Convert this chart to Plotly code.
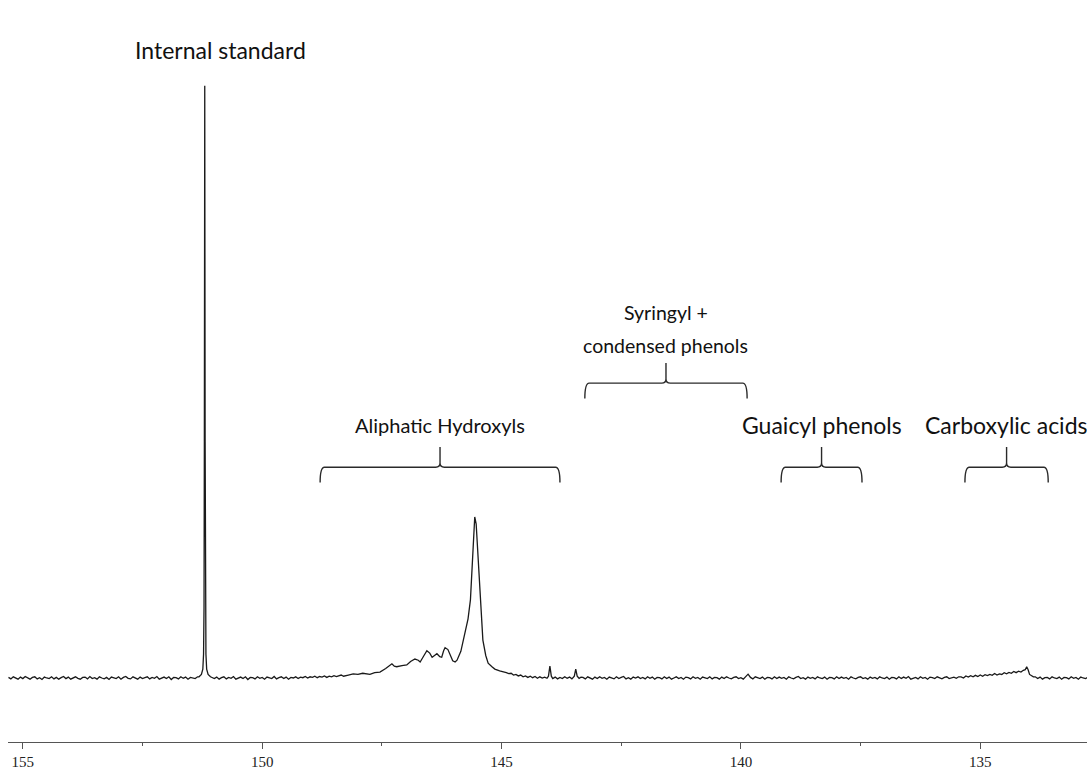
import plotly.graph_objects as go

# --- 31P NMR spectrum readings (chemical shift in ppm, intensity with internal standard = 100) ---

# Flat baseline stretches: first ppm of the stretch, then readings every 0.05 ppm
noise_step = 0.05
base_a_start = 155.3
base_a = [0.1, -0.15, 0.2, 0.0, -0.2, 0.15, -0.1, 0.25, -0.05, -0.2,
          0.1, 0.2, -0.15, 0.05, -0.25, 0.15, 0.0, -0.1, 0.2, -0.15,
          0.1, -0.2, 0.05, 0.25, -0.1, 0.15, -0.2, 0.0, 0.2, -0.05,
          -0.2, 0.1, 0.15, -0.15, 0.25, -0.1, 0.05, -0.2, 0.2, 0.0,
          -0.15, 0.1, -0.25, 0.15, 0.05, -0.1, 0.2, -0.2, 0.1, 0.25,
          -0.05, -0.15, 0.2, 0.0, -0.2, 0.15, -0.1, 0.05, 0.2, -0.15,
          0.1, -0.05, 0.25, -0.2, 0.0, 0.15, -0.1, 0.2, -0.25, 0.1,
          0.05, -0.15, 0.2, -0.05, 0.15, -0.2, 0.1, 0.0, -0.1, 0.2]
base_b_start = 151.0
base_b = [-0.1, 0.15, -0.2, 0.05, 0.2, -0.15, 0.1, -0.05, 0.25, -0.2,
          0.0, 0.15, -0.1, 0.2, -0.25, 0.1, 0.05, -0.15, 0.2, -0.05,
          0.1, -0.2, 0.15, 0.0, -0.1, 0.25, -0.15, 0.05, 0.2, -0.1,
          0.15, -0.2, 0.1, 0.0, 0.2, -0.1, 0.15, 0.05, 0.25, 0.0,
          0.2, 0.1, 0.3, 0.05, 0.25, 0.15, 0.35, 0.1, 0.3, 0.2,
          0.4, 0.25, 0.35, 0.5, 0.3, 0.45]
base_c_start = 143.3
base_c = [0.1, -0.15, 0.2, 0.0, -0.2, 0.15, -0.1, 0.2, -0.05, 0.1,
          -0.2, 0.15, 0.05, -0.15, 0.2, -0.1, 0.1, 0.25, -0.15, 0.05,
          -0.2, 0.15, 0.0, 0.2, -0.1, 0.1, -0.15, 0.2, -0.05, 0.15,
          -0.2, 0.1, 0.05, -0.15, 0.2, -0.1, 0.15, -0.2, 0.0, 0.2,
          -0.1, 0.1, -0.2, 0.15, 0.05, -0.15, 0.2, -0.05, 0.1, -0.2,
          0.15, 0.0, -0.1, 0.2, -0.15, 0.1, 0.05, -0.2, 0.15, -0.1,
          0.2, 0.0, -0.15, 0.1, 0.2, -0.1, 0.05, -0.2, 0.25, 0.65,
          0.1, -0.15, 0.2, 0.0, -0.1, 0.15, -0.2, 0.1, 0.05, -0.15,
          0.2, -0.1, 0.15, -0.05, 0.1, -0.2, 0.2, 0.0, -0.15, 0.1,
          0.25, -0.1, 0.05, -0.2, 0.15, -0.05, 0.1, -0.15, 0.2, 0.0,
          -0.1, 0.15, -0.2, 0.1, 0.05, -0.15, 0.2, -0.1, 0.15, -0.05,
          0.1, -0.2, 0.2, 0.0, -0.15, 0.1, 0.2, -0.1, 0.05, -0.2,
          0.15, -0.05, 0.1, -0.15, 0.2, 0.0, -0.1, 0.15, -0.2, 0.1,
          0.05, -0.15, 0.2, -0.1, 0.15, -0.05, 0.25, -0.2, 0.0, 0.1,
          -0.15, 0.2, -0.05, 0.1, -0.2, 0.15, 0.05, -0.1, 0.2, 0.0,
          -0.15, 0.1, 0.2, -0.1, 0.05, 0.15, -0.05, 0.2]
base_d_start = 133.85
base_d = [0.2, -0.1, 0.15, -0.2, 0.05, 0.1, -0.15, 0.2, 0.0, -0.1,
          0.15, -0.2, 0.1, 0.05, -0.15, 0.2, -0.05, 0.1, -0.2, 0.15,
          0.0, -0.1, 0.15]

# Internal standard signal
std_ppm = [151.32, 151.27, 151.24, 151.225, 151.215, 151.208, 151.200,
           151.192, 151.185, 151.175, 151.16, 151.13, 151.08]
std_int = [0.2, 0.6, 1.5, 4.0, 12.0, 40.0, 100.0,
           40.0, 12.0, 4.0, 1.5, 0.6, 0.2]

# Aliphatic hydroxyl envelope and the small signals after it
ali_ppm = [148.2, 148.1, 148.0, 147.9, 147.75, 147.65, 147.54, 147.42, 147.35,
           147.29, 147.24, 147.19, 147.08, 146.98, 146.90, 146.81, 146.74,
           146.70, 146.62, 146.56, 146.50, 146.45, 146.40, 146.35, 146.29,
           146.25, 146.21, 146.18, 146.12, 146.06, 146.02, 145.97, 145.93,
           145.85, 145.76, 145.70, 145.65, 145.61, 145.58, 145.56, 145.53,
           145.50, 145.45, 145.39, 145.33, 145.28, 145.20, 145.14, 145.04,
           144.95, 144.90, 144.85, 144.80, 144.75, 144.70, 144.65, 144.60,
           144.55, 144.50, 144.45, 144.40, 144.35, 144.30, 144.25, 144.20,
           144.15, 144.10, 144.05, 144.02, 143.99, 143.96, 143.93, 143.88,
           143.83, 143.78, 143.73, 143.68, 143.63, 143.58, 143.53, 143.48,
           143.45, 143.42, 143.38, 143.34]
ali_int = [0.5, 0.7, 0.6, 0.8, 0.6, 0.9, 1.0, 1.6, 2.0,
           2.4, 2.0, 1.9, 2.1, 2.2, 2.8, 3.2, 3.0,
           2.7, 3.8, 4.6, 4.2, 3.5, 3.8, 4.1, 3.6,
           3.5, 4.6, 5.1, 4.8, 3.8, 2.9, 2.7, 3.0,
           4.5, 7.6, 10.0, 13.2, 20.5, 25.8, 27.2, 26.0,
           21.5, 13.2, 6.4, 3.8, 2.5, 1.9, 1.5, 1.2,
           1.05, 0.9, 0.75, 0.8, 0.5, 0.6, 0.35, 0.5,
           0.2, 0.35, 0.1, 0.3, 0.05, 0.25, -0.05, 0.2,
           0.0, 0.15, -0.05, 0.3, 2.0, 0.3, -0.1, 0.15,
           -0.15, 0.1, -0.1, 0.2, -0.05, 0.15, -0.15, 0.3,
           1.5, 0.3, -0.05, 0.15]

# Carboxylic acid region
cooh_ppm = [135.40, 135.35, 135.30, 135.25, 135.20, 135.15, 135.10, 135.05,
            135.00, 134.95, 134.90, 134.85, 134.80, 134.75, 134.70, 134.65,
            134.60, 134.55, 134.50, 134.45, 134.40, 134.35, 134.30, 134.25,
            134.20, 134.15, 134.10, 134.06, 134.03, 134.00, 133.97, 133.93,
            133.89]
cooh_int = [0.2, 0.0, 0.35, 0.15, 0.4, 0.2, 0.45, 0.25,
            0.5, 0.3, 0.55, 0.4, 0.6, 0.45, 0.75, 0.5,
            0.7, 0.6, 0.9, 0.7, 0.95, 0.8, 1.1, 0.9,
            1.15, 1.0, 1.3, 1.4, 1.9, 1.4, 0.6, 0.45,
            0.2]

# Assignment regions: ppm limits, bracket level, and label lines with their heights
regions = [
    {"left": 148.79, "right": 143.78, "level": 35.6,
     "lines": [("Aliphatic Hydroxyls", 42.7, 20)]},
    {"left": 143.26, "right": 139.87, "level": 49.8,
     "lines": [("Syringyl +", 61.7, 19.5), ("condensed phenols", 56.1, 19.5)]},
    {"left": 139.16, "right": 137.47, "level": 35.6,
     "lines": [("Guaicyl phenols", 42.7, 23)]},
    {"left": 135.32, "right": 133.58, "level": 35.6,
     "lines": [("Carboxylic acids", 42.7, 23)]},
]
std_label = ("Internal standard", 150.88, 106.1, 23)


def stretch(start, readings):
    return [round(start - noise_step * i, 3) for i in range(len(readings))], readings


pieces = [
    stretch(base_a_start, base_a),
    (std_ppm, std_int),
    stretch(base_b_start, base_b),
    (ali_ppm, ali_int),
    stretch(base_c_start, base_c),
    (cooh_ppm, cooh_int),
    stretch(base_d_start, base_d),
]
shift_ppm, intensity = [], []
for px, py in pieces:
    shift_ppm += list(px)
    intensity += list(py)

fig = go.Figure()
fig.add_trace(go.Scatter(
    x=shift_ppm, y=intensity, mode="lines",
    line=dict(color="#1a1a1a", width=1.3),
    hoverinfo="skip", showlegend=False,
))

label_family = "Lato, Carlito, Open Sans, sans-serif"


def label(text, x, y, size):
    fig.add_annotation(x=x, y=y, xref="x", yref="y", text=text, showarrow=False,
                       font=dict(family=label_family, size=size, color="#111111"),
                       yanchor="middle", xanchor="center")


# Curly brackets over each assignment region
r_ppm = 0.09     # corner radius along the shift axis
r_int = 0.7      # corner radius along the intensity axis
drop = 2.6       # how far the bracket ends hang down
rise = 3.4       # height of the central cusp
for reg in regions:
    xl, xr, yh = reg["left"], reg["right"], reg["level"]
    xm = (xl + xr) / 2
    yb, yt = yh - drop, yh + rise
    path = (
        f"M {xl},{yb} Q {xl},{yh} {xl - r_ppm},{yh} "
        f"L {xm + r_ppm},{yh} Q {xm},{yh} {xm},{yh + r_int} L {xm},{yt} "
        f"M {xm},{yh + r_int} Q {xm},{yh} {xm - r_ppm},{yh} "
        f"L {xr + r_ppm},{yh} Q {xr},{yh} {xr},{yb}"
    )
    fig.add_shape(type="path", path=path, xref="x", yref="y",
                  line=dict(color="#2a2a2a", width=1.4))
    for text, y, size in reg["lines"]:
        label(text, xm, y, size)

label(std_label[0], std_label[1], std_label[2], std_label[3])

fig.update_layout(
    width=1087, height=772,
    margin=dict(l=8, r=0, t=0, b=30),
    paper_bgcolor="white", plot_bgcolor="white",
    xaxis=dict(
        range=[155.31, 132.77], showgrid=False, zeroline=False,
        showline=True, linecolor="#555555", linewidth=1,
        ticks="outside", ticklen=6, tickcolor="#555555", tickwidth=1,
        tick0=155, dtick=5,
        minor=dict(ticks="outside", ticklen=3, dtick=2.5, tick0=155,
                   tickcolor="#555555", showgrid=False),
        tickfont=dict(family="Liberation Serif, Times New Roman, serif", size=15,
                      color="#222222"),
    ),
    yaxis=dict(range=[-10.81, 114.5], visible=False, showgrid=False, zeroline=False),
)

fig.write_html("out.html")
